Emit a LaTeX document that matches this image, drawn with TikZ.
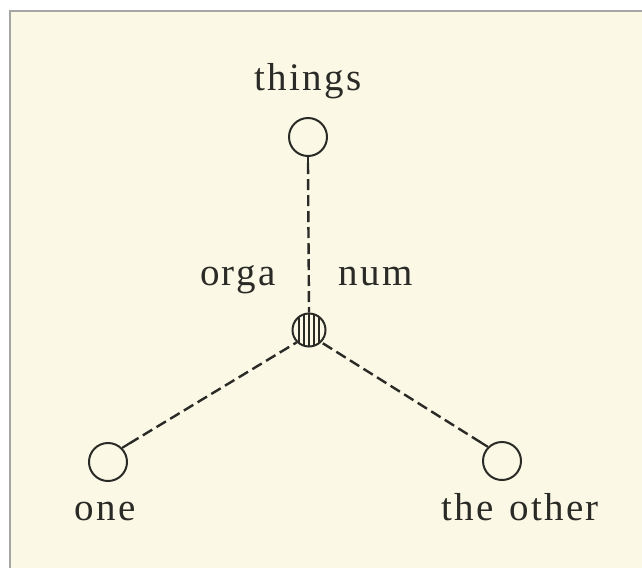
\documentclass[tikz,border=0pt]{standalone}
\usepackage{fontspec}
\usetikzlibrary{calc}
\setmainfont{Liberation Serif}[LetterSpace=6,WordSpace=1.3]
\definecolor{cream}{HTML}{FBF8E6}
\definecolor{ink}{HTML}{2A2A26}
\definecolor{framegray}{HTML}{A6A6A6}
\begin{document}
\begin{tikzpicture}[x=1pt,y=-1pt,
  nodecirc/.style={circle,draw=ink,line width=2pt,minimum size=38pt,inner sep=0pt},
  link/.style={draw=ink,line width=2.4pt,dash pattern=on 11pt off 5pt},
  stub/.style={draw=ink,line width=2.2pt},
  lbl/.style={text=ink,font=\fontsize{39}{42}\selectfont,anchor=base,inner sep=0pt}]
\useasboundingbox (0,0) rectangle (642,568);
\fill[white] (0,0) rectangle (642,568);
\fill[cream] (10,11) rectangle (642,568);
\draw[framegray,line width=2pt] (10,568) -- (10,11) -- (642,11);
\node[nodecirc] (things) at (308,137) {};
\node[nodecirc] (one) at (108,462) {};
\node[nodecirc] (other) at (502,461) {};
\node[circle,draw=ink,line width=2pt,minimum size=33pt,inner sep=0pt] (org) at (309,330) {};
\begin{scope}
\clip (org.center) circle (16.5pt);
\foreach \dx in {-10,-5,0,5,10}
  \draw[ink,line width=1.8pt] ([xshift=\dx pt]org.center) ++(0,-20) -- ++(0,40);
\end{scope}
\node[lbl] (tthings) at (308,90) {things};
\node[lbl] (tone) at (105,520) {one};
\node[lbl] (tother) at (520,520) {the other};
\node[lbl] (torga) at (238,285) {orga};
\node[lbl] (tnum) at (376,285) {num};
% connectors
\draw[stub] (things.south) -- ++(0,6) coordinate (ts);
\draw[link] (ts) -- (org.north);
\draw[stub] (one.north east) -- ($(one.north east)!0.04!(org.south west)$) coordinate (os);
\draw[link] (os) -- (org.south west);
\draw[stub] (other.north west) -- ($(other.north west)!0.04!(org.south east)$) coordinate (ots);
\draw[link] (ots) -- (org.south east);
\end{tikzpicture}
\end{document}
